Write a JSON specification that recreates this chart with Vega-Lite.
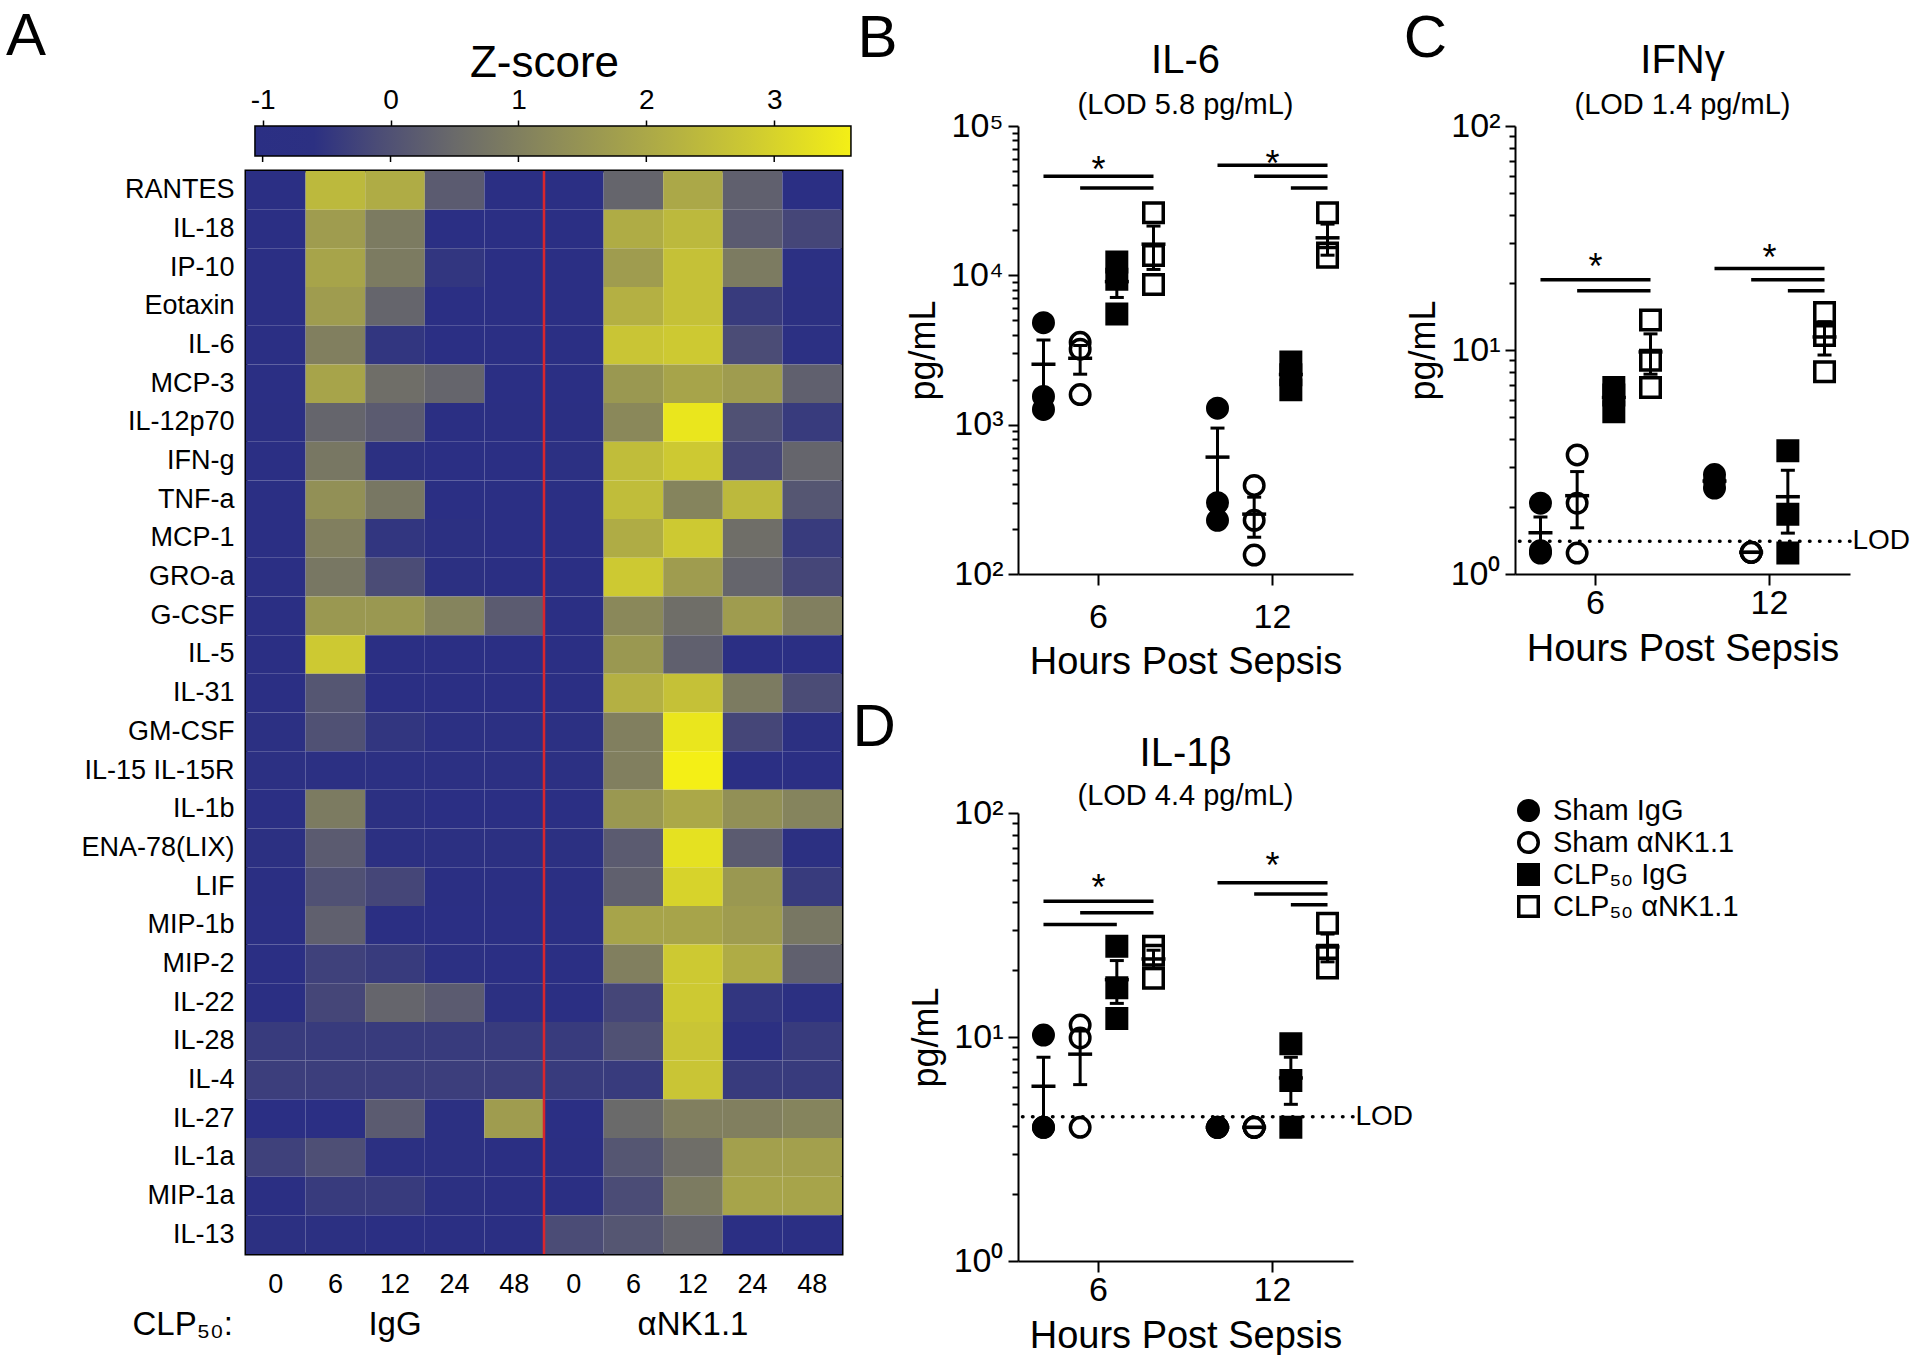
{
  "$schema": "https://vega.github.io/schema/vega-lite/v6.json",
  "background": "white",
  "padding": {"left": 6, "top": 7, "right": 0, "bottom": 0},
  "config": {
    "view": {"stroke": null},
    "font": "Liberation Sans",
    "axis": {"domainColor": "black", "tickColor": "black", "labelColor": "black", "titleColor": "black", "grid": false, "titleFontWeight": "normal", "labelFont": "Liberation Sans", "titleFont": "Liberation Sans"},
    "title": {"color": "black", "fontWeight": "normal", "font": "Liberation Sans", "subtitleColor": "black", "subtitleFont": "Liberation Sans"},
    "legend": {"labelColor": "black", "labelFont": "Liberation Sans"},
    "point": {"opacity": 1},
    "tick": {"opacity": 1},
    "text": {"color": "black", "font": "Liberation Sans"}
  },
  "datasets": {
    "il6": [
      {"time": 6, "group": "Sham IgG", "value": 4820}, {"time": 6, "group": "Sham IgG", "value": 1545}, {"time": 6, "group": "Sham IgG", "value": 1265},
      {"time": 6, "group": "Sham αNK1.1", "value": 3560}, {"time": 6, "group": "Sham αNK1.1", "value": 3200}, {"time": 6, "group": "Sham αNK1.1", "value": 1590},
      {"time": 6, "group": "CLP₅₀ IgG", "value": 12300}, {"time": 6, "group": "CLP₅₀ IgG", "value": 9420}, {"time": 6, "group": "CLP₅₀ IgG", "value": 5510},
      {"time": 6, "group": "CLP₅₀ αNK1.1", "value": 26200}, {"time": 6, "group": "CLP₅₀ αNK1.1", "value": 13600}, {"time": 6, "group": "CLP₅₀ αNK1.1", "value": 8690},
      {"time": 12, "group": "Sham IgG", "value": 1290}, {"time": 12, "group": "Sham IgG", "value": 300}, {"time": 12, "group": "Sham IgG", "value": 229},
      {"time": 12, "group": "Sham αNK1.1", "value": 392}, {"time": 12, "group": "Sham αNK1.1", "value": 229}, {"time": 12, "group": "Sham αNK1.1", "value": 134},
      {"time": 12, "group": "CLP₅₀ IgG", "value": 2630}, {"time": 12, "group": "CLP₅₀ IgG", "value": 2160}, {"time": 12, "group": "CLP₅₀ IgG", "value": 1710},
      {"time": 12, "group": "CLP₅₀ αNK1.1", "value": 26200}, {"time": 12, "group": "CLP₅₀ αNK1.1", "value": 14100}, {"time": 12, "group": "CLP₅₀ αNK1.1", "value": 13200}
    ],
    "ifng": [
      {"time": 6, "group": "Sham IgG", "value": 2.07}, {"time": 6, "group": "Sham IgG", "value": 1.27}, {"time": 6, "group": "Sham IgG", "value": 1.24},
      {"time": 6, "group": "Sham αNK1.1", "value": 3.4}, {"time": 6, "group": "Sham αNK1.1", "value": 2.07}, {"time": 6, "group": "Sham αNK1.1", "value": 1.24},
      {"time": 6, "group": "CLP₅₀ IgG", "value": 6.8}, {"time": 6, "group": "CLP₅₀ IgG", "value": 6.3}, {"time": 6, "group": "CLP₅₀ IgG", "value": 5.3},
      {"time": 6, "group": "CLP₅₀ αNK1.1", "value": 13.6}, {"time": 6, "group": "CLP₅₀ αNK1.1", "value": 9.0}, {"time": 6, "group": "CLP₅₀ αNK1.1", "value": 6.8},
      {"time": 12, "group": "Sham IgG", "value": 2.78}, {"time": 12, "group": "Sham IgG", "value": 2.6}, {"time": 12, "group": "Sham IgG", "value": 2.42},
      {"time": 12, "group": "Sham αNK1.1", "value": 1.25}, {"time": 12, "group": "Sham αNK1.1", "value": 1.25}, {"time": 12, "group": "Sham αNK1.1", "value": 1.25},
      {"time": 12, "group": "CLP₅₀ IgG", "value": 3.55}, {"time": 12, "group": "CLP₅₀ IgG", "value": 1.85}, {"time": 12, "group": "CLP₅₀ IgG", "value": 1.24},
      {"time": 12, "group": "CLP₅₀ αNK1.1", "value": 14.7}, {"time": 12, "group": "CLP₅₀ αNK1.1", "value": 11.6}, {"time": 12, "group": "CLP₅₀ αNK1.1", "value": 8.0}
    ],
    "il1b": [
      {"time": 6, "group": "Sham IgG", "value": 10.2}, {"time": 6, "group": "Sham IgG", "value": 3.95}, {"time": 6, "group": "Sham IgG", "value": 3.95},
      {"time": 6, "group": "Sham αNK1.1", "value": 11.3}, {"time": 6, "group": "Sham αNK1.1", "value": 9.9}, {"time": 6, "group": "Sham αNK1.1", "value": 3.95},
      {"time": 6, "group": "CLP₅₀ IgG", "value": 25.4}, {"time": 6, "group": "CLP₅₀ IgG", "value": 16.6}, {"time": 6, "group": "CLP₅₀ IgG", "value": 12.1},
      {"time": 6, "group": "CLP₅₀ αNK1.1", "value": 25.4}, {"time": 6, "group": "CLP₅₀ αNK1.1", "value": 23.2}, {"time": 6, "group": "CLP₅₀ αNK1.1", "value": 18.3},
      {"time": 12, "group": "Sham IgG", "value": 3.95}, {"time": 12, "group": "Sham IgG", "value": 3.95}, {"time": 12, "group": "Sham IgG", "value": 3.95},
      {"time": 12, "group": "Sham αNK1.1", "value": 3.95}, {"time": 12, "group": "Sham αNK1.1", "value": 3.95}, {"time": 12, "group": "Sham αNK1.1", "value": 3.95},
      {"time": 12, "group": "CLP₅₀ IgG", "value": 9.34}, {"time": 12, "group": "CLP₅₀ IgG", "value": 6.4}, {"time": 12, "group": "CLP₅₀ IgG", "value": 3.95},
      {"time": 12, "group": "CLP₅₀ αNK1.1", "value": 32.2}, {"time": 12, "group": "CLP₅₀ αNK1.1", "value": 23.2}, {"time": 12, "group": "CLP₅₀ αNK1.1", "value": 20.3}
    ],
    "heat": [
      {"name":"RANTES","col":"IgG 0","z":-1},{"name":"RANTES","col":"IgG 6","z":2.4},{"name":"RANTES","col":"IgG 12","z":2.1},{"name":"RANTES","col":"IgG 24","z":0.2},{"name":"RANTES","col":"IgG 48","z":-1},{"name":"RANTES","col":"aNK 0","z":-1},{"name":"RANTES","col":"aNK 6","z":0.4},{"name":"RANTES","col":"aNK 12","z":2.0},{"name":"RANTES","col":"aNK 24","z":0.3},{"name":"RANTES","col":"aNK 48","z":-1},
      {"name":"IL-18","col":"IgG 0","z":-1},{"name":"IL-18","col":"IgG 6","z":1.7},{"name":"IL-18","col":"IgG 12","z":0.9},{"name":"IL-18","col":"IgG 24","z":-1},{"name":"IL-18","col":"IgG 48","z":-1},{"name":"IL-18","col":"aNK 0","z":-1},{"name":"IL-18","col":"aNK 6","z":2.1},{"name":"IL-18","col":"aNK 12","z":2.4},{"name":"IL-18","col":"aNK 24","z":0.2},{"name":"IL-18","col":"aNK 48","z":-0.2},
      {"name":"IP-10","col":"IgG 0","z":-1},{"name":"IP-10","col":"IgG 6","z":1.9},{"name":"IP-10","col":"IgG 12","z":0.9},{"name":"IP-10","col":"IgG 24","z":-0.5},{"name":"IP-10","col":"IgG 48","z":-1},{"name":"IP-10","col":"aNK 0","z":-1},{"name":"IP-10","col":"aNK 6","z":1.7},{"name":"IP-10","col":"aNK 12","z":2.6},{"name":"IP-10","col":"aNK 24","z":0.9},{"name":"IP-10","col":"aNK 48","z":-0.8},
      {"name":"Eotaxin","col":"IgG 0","z":-1},{"name":"Eotaxin","col":"IgG 6","z":1.7},{"name":"Eotaxin","col":"IgG 12","z":0.4},{"name":"Eotaxin","col":"IgG 24","z":-1},{"name":"Eotaxin","col":"IgG 48","z":-1},{"name":"Eotaxin","col":"aNK 0","z":-1},{"name":"Eotaxin","col":"aNK 6","z":2.2},{"name":"Eotaxin","col":"aNK 12","z":2.6},{"name":"Eotaxin","col":"aNK 24","z":-0.4},{"name":"Eotaxin","col":"aNK 48","z":-0.7},
      {"name":"IL-6","col":"IgG 0","z":-1},{"name":"IL-6","col":"IgG 6","z":1.0},{"name":"IL-6","col":"IgG 12","z":-0.5},{"name":"IL-6","col":"IgG 24","z":-1},{"name":"IL-6","col":"IgG 48","z":-1},{"name":"IL-6","col":"aNK 0","z":-1},{"name":"IL-6","col":"aNK 6","z":2.7},{"name":"IL-6","col":"aNK 12","z":2.8},{"name":"IL-6","col":"aNK 24","z":-0.1},{"name":"IL-6","col":"aNK 48","z":-0.8},
      {"name":"MCP-3","col":"IgG 0","z":-1},{"name":"MCP-3","col":"IgG 6","z":1.9},{"name":"MCP-3","col":"IgG 12","z":0.6},{"name":"MCP-3","col":"IgG 24","z":0.4},{"name":"MCP-3","col":"IgG 48","z":-1},{"name":"MCP-3","col":"aNK 0","z":-1},{"name":"MCP-3","col":"aNK 6","z":1.6},{"name":"MCP-3","col":"aNK 12","z":1.9},{"name":"MCP-3","col":"aNK 24","z":1.7},{"name":"MCP-3","col":"aNK 48","z":0.3},
      {"name":"IL-12p70","col":"IgG 0","z":-0.9},{"name":"IL-12p70","col":"IgG 6","z":0.4},{"name":"IL-12p70","col":"IgG 12","z":0.2},{"name":"IL-12p70","col":"IgG 24","z":-0.9},{"name":"IL-12p70","col":"IgG 48","z":-0.9},{"name":"IL-12p70","col":"aNK 0","z":-0.9},{"name":"IL-12p70","col":"aNK 6","z":1.2},{"name":"IL-12p70","col":"aNK 12","z":3.4},{"name":"IL-12p70","col":"aNK 24","z":0.0},{"name":"IL-12p70","col":"aNK 48","z":-0.4},
      {"name":"IFN-g","col":"IgG 0","z":-1},{"name":"IFN-g","col":"IgG 6","z":0.8},{"name":"IFN-g","col":"IgG 12","z":-0.6},{"name":"IFN-g","col":"IgG 24","z":-1},{"name":"IFN-g","col":"IgG 48","z":-1},{"name":"IFN-g","col":"aNK 0","z":-0.8},{"name":"IFN-g","col":"aNK 6","z":2.5},{"name":"IFN-g","col":"aNK 12","z":2.8},{"name":"IFN-g","col":"aNK 24","z":-0.2},{"name":"IFN-g","col":"aNK 48","z":0.4},
      {"name":"TNF-a","col":"IgG 0","z":-1},{"name":"TNF-a","col":"IgG 6","z":1.4},{"name":"TNF-a","col":"IgG 12","z":0.8},{"name":"TNF-a","col":"IgG 24","z":-1},{"name":"TNF-a","col":"IgG 48","z":-1},{"name":"TNF-a","col":"aNK 0","z":-1},{"name":"TNF-a","col":"aNK 6","z":2.5},{"name":"TNF-a","col":"aNK 12","z":1.1},{"name":"TNF-a","col":"aNK 24","z":2.4},{"name":"TNF-a","col":"aNK 48","z":0.1},
      {"name":"MCP-1","col":"IgG 0","z":-1},{"name":"MCP-1","col":"IgG 6","z":1.0},{"name":"MCP-1","col":"IgG 12","z":-0.5},{"name":"MCP-1","col":"IgG 24","z":-0.7},{"name":"MCP-1","col":"IgG 48","z":-1},{"name":"MCP-1","col":"aNK 0","z":-1},{"name":"MCP-1","col":"aNK 6","z":2.1},{"name":"MCP-1","col":"aNK 12","z":2.8},{"name":"MCP-1","col":"aNK 24","z":0.6},{"name":"MCP-1","col":"aNK 48","z":-0.4},
      {"name":"GRO-a","col":"IgG 0","z":-1},{"name":"GRO-a","col":"IgG 6","z":0.8},{"name":"GRO-a","col":"IgG 12","z":-0.1},{"name":"GRO-a","col":"IgG 24","z":-0.6},{"name":"GRO-a","col":"IgG 48","z":-0.9},{"name":"GRO-a","col":"aNK 0","z":-1},{"name":"GRO-a","col":"aNK 6","z":2.8},{"name":"GRO-a","col":"aNK 12","z":1.7},{"name":"GRO-a","col":"aNK 24","z":0.4},{"name":"GRO-a","col":"aNK 48","z":-0.2},
      {"name":"G-CSF","col":"IgG 0","z":-1},{"name":"G-CSF","col":"IgG 6","z":1.6},{"name":"G-CSF","col":"IgG 12","z":1.6},{"name":"G-CSF","col":"IgG 24","z":1.1},{"name":"G-CSF","col":"IgG 48","z":0.2},{"name":"G-CSF","col":"aNK 0","z":-1},{"name":"G-CSF","col":"aNK 6","z":1.2},{"name":"G-CSF","col":"aNK 12","z":0.6},{"name":"G-CSF","col":"aNK 24","z":1.7},{"name":"G-CSF","col":"aNK 48","z":1.0},
      {"name":"IL-5","col":"IgG 0","z":-1},{"name":"IL-5","col":"IgG 6","z":2.8},{"name":"IL-5","col":"IgG 12","z":-1},{"name":"IL-5","col":"IgG 24","z":-1},{"name":"IL-5","col":"IgG 48","z":-1},{"name":"IL-5","col":"aNK 0","z":-1},{"name":"IL-5","col":"aNK 6","z":1.6},{"name":"IL-5","col":"aNK 12","z":0.3},{"name":"IL-5","col":"aNK 24","z":-1},{"name":"IL-5","col":"aNK 48","z":-1},
      {"name":"IL-31","col":"IgG 0","z":-1},{"name":"IL-31","col":"IgG 6","z":0.1},{"name":"IL-31","col":"IgG 12","z":-1},{"name":"IL-31","col":"IgG 24","z":-1},{"name":"IL-31","col":"IgG 48","z":-1},{"name":"IL-31","col":"aNK 0","z":-1},{"name":"IL-31","col":"aNK 6","z":2.2},{"name":"IL-31","col":"aNK 12","z":2.6},{"name":"IL-31","col":"aNK 24","z":0.9},{"name":"IL-31","col":"aNK 48","z":-0.1},
      {"name":"GM-CSF","col":"IgG 0","z":-0.8},{"name":"GM-CSF","col":"IgG 6","z":0.0},{"name":"GM-CSF","col":"IgG 12","z":-0.5},{"name":"GM-CSF","col":"IgG 24","z":-0.8},{"name":"GM-CSF","col":"IgG 48","z":-0.8},{"name":"GM-CSF","col":"aNK 0","z":-0.8},{"name":"GM-CSF","col":"aNK 6","z":1.0},{"name":"GM-CSF","col":"aNK 12","z":3.4},{"name":"GM-CSF","col":"aNK 24","z":-0.2},{"name":"GM-CSF","col":"aNK 48","z":-0.7},
      {"name":"IL-15 IL-15R","col":"IgG 0","z":-0.8},{"name":"IL-15 IL-15R","col":"IgG 6","z":-0.8},{"name":"IL-15 IL-15R","col":"IgG 12","z":-0.8},{"name":"IL-15 IL-15R","col":"IgG 24","z":-0.8},{"name":"IL-15 IL-15R","col":"IgG 48","z":-0.8},{"name":"IL-15 IL-15R","col":"aNK 0","z":-0.8},{"name":"IL-15 IL-15R","col":"aNK 6","z":1.0},{"name":"IL-15 IL-15R","col":"aNK 12","z":3.6},{"name":"IL-15 IL-15R","col":"aNK 24","z":-0.95},{"name":"IL-15 IL-15R","col":"aNK 48","z":-0.95},
      {"name":"IL-1b","col":"IgG 0","z":-1},{"name":"IL-1b","col":"IgG 6","z":0.9},{"name":"IL-1b","col":"IgG 12","z":-0.6},{"name":"IL-1b","col":"IgG 24","z":-1},{"name":"IL-1b","col":"IgG 48","z":-1},{"name":"IL-1b","col":"aNK 0","z":-1},{"name":"IL-1b","col":"aNK 6","z":1.6},{"name":"IL-1b","col":"aNK 12","z":2.0},{"name":"IL-1b","col":"aNK 24","z":1.4},{"name":"IL-1b","col":"aNK 48","z":1.1},
      {"name":"ENA-78(LIX)","col":"IgG 0","z":-0.6},{"name":"ENA-78(LIX)","col":"IgG 6","z":0.2},{"name":"ENA-78(LIX)","col":"IgG 12","z":-0.6},{"name":"ENA-78(LIX)","col":"IgG 24","z":-0.6},{"name":"ENA-78(LIX)","col":"IgG 48","z":-0.6},{"name":"ENA-78(LIX)","col":"aNK 0","z":-0.7},{"name":"ENA-78(LIX)","col":"aNK 6","z":0.2},{"name":"ENA-78(LIX)","col":"aNK 12","z":3.3},{"name":"ENA-78(LIX)","col":"aNK 24","z":0.2},{"name":"ENA-78(LIX)","col":"aNK 48","z":-0.7},
      {"name":"LIF","col":"IgG 0","z":-0.9},{"name":"LIF","col":"IgG 6","z":0.0},{"name":"LIF","col":"IgG 12","z":-0.2},{"name":"LIF","col":"IgG 24","z":-0.9},{"name":"LIF","col":"IgG 48","z":-0.9},{"name":"LIF","col":"aNK 0","z":-0.9},{"name":"LIF","col":"aNK 6","z":0.3},{"name":"LIF","col":"aNK 12","z":3.0},{"name":"LIF","col":"aNK 24","z":1.6},{"name":"LIF","col":"aNK 48","z":-0.4},
      {"name":"MIP-1b","col":"IgG 0","z":-1},{"name":"MIP-1b","col":"IgG 6","z":0.3},{"name":"MIP-1b","col":"IgG 12","z":-0.9},{"name":"MIP-1b","col":"IgG 24","z":-1},{"name":"MIP-1b","col":"IgG 48","z":-1},{"name":"MIP-1b","col":"aNK 0","z":-1},{"name":"MIP-1b","col":"aNK 6","z":1.9},{"name":"MIP-1b","col":"aNK 12","z":1.9},{"name":"MIP-1b","col":"aNK 24","z":1.7},{"name":"MIP-1b","col":"aNK 48","z":0.8},
      {"name":"MIP-2","col":"IgG 0","z":-1},{"name":"MIP-2","col":"IgG 6","z":-0.3},{"name":"MIP-2","col":"IgG 12","z":-0.4},{"name":"MIP-2","col":"IgG 24","z":-0.8},{"name":"MIP-2","col":"IgG 48","z":-1},{"name":"MIP-2","col":"aNK 0","z":-1},{"name":"MIP-2","col":"aNK 6","z":1.0},{"name":"MIP-2","col":"aNK 12","z":2.8},{"name":"MIP-2","col":"aNK 24","z":2.1},{"name":"MIP-2","col":"aNK 48","z":0.3},
      {"name":"IL-22","col":"IgG 0","z":-0.9},{"name":"IL-22","col":"IgG 6","z":-0.2},{"name":"IL-22","col":"IgG 12","z":0.4},{"name":"IL-22","col":"IgG 24","z":0.2},{"name":"IL-22","col":"IgG 48","z":-0.6},{"name":"IL-22","col":"aNK 0","z":-0.9},{"name":"IL-22","col":"aNK 6","z":-0.2},{"name":"IL-22","col":"aNK 12","z":2.8},{"name":"IL-22","col":"aNK 24","z":-0.5},{"name":"IL-22","col":"aNK 48","z":-0.6},
      {"name":"IL-28","col":"IgG 0","z":-0.4},{"name":"IL-28","col":"IgG 6","z":-0.4},{"name":"IL-28","col":"IgG 12","z":-0.4},{"name":"IL-28","col":"IgG 24","z":-0.4},{"name":"IL-28","col":"IgG 48","z":-0.4},{"name":"IL-28","col":"aNK 0","z":-0.4},{"name":"IL-28","col":"aNK 6","z":0.0},{"name":"IL-28","col":"aNK 12","z":2.7},{"name":"IL-28","col":"aNK 24","z":-0.6},{"name":"IL-28","col":"aNK 48","z":-0.4},
      {"name":"IL-4","col":"IgG 0","z":-0.35},{"name":"IL-4","col":"IgG 6","z":-0.35},{"name":"IL-4","col":"IgG 12","z":-0.35},{"name":"IL-4","col":"IgG 24","z":-0.35},{"name":"IL-4","col":"IgG 48","z":-0.35},{"name":"IL-4","col":"aNK 0","z":-0.4},{"name":"IL-4","col":"aNK 6","z":-0.4},{"name":"IL-4","col":"aNK 12","z":2.7},{"name":"IL-4","col":"aNK 24","z":-0.4},{"name":"IL-4","col":"aNK 48","z":-0.4},
      {"name":"IL-27","col":"IgG 0","z":-1},{"name":"IL-27","col":"IgG 6","z":-1},{"name":"IL-27","col":"IgG 12","z":0.2},{"name":"IL-27","col":"IgG 24","z":-0.7},{"name":"IL-27","col":"IgG 48","z":1.7},{"name":"IL-27","col":"aNK 0","z":-1},{"name":"IL-27","col":"aNK 6","z":0.5},{"name":"IL-27","col":"aNK 12","z":1.0},{"name":"IL-27","col":"aNK 24","z":1.0},{"name":"IL-27","col":"aNK 48","z":1.1},
      {"name":"IL-1a","col":"IgG 0","z":-0.3},{"name":"IL-1a","col":"IgG 6","z":-0.05},{"name":"IL-1a","col":"IgG 12","z":-0.6},{"name":"IL-1a","col":"IgG 24","z":-0.7},{"name":"IL-1a","col":"IgG 48","z":-0.9},{"name":"IL-1a","col":"aNK 0","z":-0.9},{"name":"IL-1a","col":"aNK 6","z":0.1},{"name":"IL-1a","col":"aNK 12","z":0.6},{"name":"IL-1a","col":"aNK 24","z":1.8},{"name":"IL-1a","col":"aNK 48","z":1.8},
      {"name":"MIP-1a","col":"IgG 0","z":-0.9},{"name":"MIP-1a","col":"IgG 6","z":-0.4},{"name":"MIP-1a","col":"IgG 12","z":-0.4},{"name":"MIP-1a","col":"IgG 24","z":-0.6},{"name":"MIP-1a","col":"IgG 48","z":-0.9},{"name":"MIP-1a","col":"aNK 0","z":-0.9},{"name":"MIP-1a","col":"aNK 6","z":-0.1},{"name":"MIP-1a","col":"aNK 12","z":0.9},{"name":"MIP-1a","col":"aNK 24","z":1.9},{"name":"MIP-1a","col":"aNK 48","z":1.9},
      {"name":"IL-13","col":"IgG 0","z":-0.7},{"name":"IL-13","col":"IgG 6","z":-0.7},{"name":"IL-13","col":"IgG 12","z":-0.85},{"name":"IL-13","col":"IgG 24","z":-0.85},{"name":"IL-13","col":"IgG 48","z":-0.85},{"name":"IL-13","col":"aNK 0","z":-0.1},{"name":"IL-13","col":"aNK 6","z":0.1},{"name":"IL-13","col":"aNK 12","z":0.4},{"name":"IL-13","col":"aNK 24","z":-0.95},{"name":"IL-13","col":"aNK 48","z":-0.95}
    ]
  },
  "spacing": 0,
  "resolve": {"scale": {"shape": "independent", "fill": "independent", "stroke": "independent"}},
  "hconcat": [
    {
      "bounds": "flush",
      "spacing": 15,
      "vconcat": [
        {
          "width": 596,
          "height": 30,
          "title": {"text": "A", "anchor": "start", "frame": "group", "fontSize": 60, "offset": 0, "dx": -240, "dy": 27},
          "data": {"values": [{"lo": -1.06, "hi": 3.6}]},
          "layer": [
            {
              "mark": {"type": "rect", "stroke": "black", "strokeWidth": 1.5, "fill": {"gradient": "linear", "x1": 0, "x2": 1, "y1": 0, "y2": 0, "stops": [
                {"offset": 0, "color": "#2b2f84"}, {"offset": 0.0987, "color": "#2c3082"}, {"offset": 0.206, "color": "#4b4c76"}, {"offset": 0.3348, "color": "#6a6a6a"},
                {"offset": 0.5064, "color": "#8e8c58"}, {"offset": 0.6567, "color": "#aba848"}, {"offset": 0.8283, "color": "#cdc932"}, {"offset": 1, "color": "#f4ef16"}]}},
              "encoding": {
                "x": {"field": "lo", "type": "quantitative", "title": "Z-score", "scale": {"domain": [-1.13, 3.53], "nice": false, "zero": false},
                      "axis": {"orient": "top", "values": [-1, 0, 1, 2, 3], "labelExpr": "'' + datum.value", "tickSize": 6, "tickWidth": 1.5, "domain": false, "labelFontSize": 28, "labelPadding": 6, "labelFlush": false, "titleFontSize": 44, "titlePadding": 1}},
                "x2": {"field": "hi"}
              }
            },
            {
              "data": {"values": [{"v": -1}, {"v": 0}, {"v": 1}, {"v": 2}, {"v": 3}]},
              "mark": {"type": "rule", "color": "black", "strokeWidth": 1.5},
              "encoding": {
                "x": {"field": "v", "type": "quantitative", "title": "Z-score"},
                "y": {"datum": 0, "type": "quantitative", "scale": {"domain": [0, 1], "nice": false, "zero": false}, "axis": null},
                "y2": {"datum": -0.2}
              }
            }
          ]
        },
        {
          "width": 596,
          "height": 1083,
          "view": {"stroke": "black", "strokeWidth": 3},
          "layer": [
            {
              "data": {"name": "heat"},
              "mark": {"type": "rect"},
              "encoding": {
                "x": {"field": "col", "type": "ordinal",
                      "scale": {"domain": ["IgG 0", "IgG 6", "IgG 12", "IgG 24", "IgG 48", "aNK 0", "aNK 6", "aNK 12", "aNK 24", "aNK 48"], "paddingInner": 0, "paddingOuter": 0},
                      "axis": {"orient": "bottom", "labelExpr": "split(datum.value, ' ')[1]", "labelAngle": 0, "ticks": false, "domain": false, "labelFontSize": 27, "labelPadding": 17, "title": null}},
                "y": {"field": "name", "type": "ordinal",
                      "scale": {"domain": ["RANTES", "IL-18", "IP-10", "Eotaxin", "IL-6", "MCP-3", "IL-12p70", "IFN-g", "TNF-a", "MCP-1", "GRO-a", "G-CSF", "IL-5", "IL-31", "GM-CSF", "IL-15 IL-15R", "IL-1b", "ENA-78(LIX)", "LIF", "MIP-1b", "MIP-2", "IL-22", "IL-28", "IL-4", "IL-27", "IL-1a", "MIP-1a", "IL-13"], "paddingInner": 0, "paddingOuter": 0},
                      "axis": {"ticks": false, "domain": false, "labelFontSize": 27, "labelPadding": 12, "title": null}},
                "color": {"field": "z", "type": "quantitative",
                          "scale": {"type": "linear", "domain": [-1.06, -0.6, -0.1, 0.5, 1.3, 2.0, 2.8, 3.6], "range": ["#2b2f84", "#2c3082", "#4b4c76", "#6a6a6a", "#8e8c58", "#aba848", "#cdc932", "#f4ef16"], "interpolate": "rgb", "clamp": true},
                          "legend": null}
              }
            },
            {
              "data": {"values": [{"col": "aNK 0"}]},
              "mark": {"type": "rule", "color": "#d9262c", "strokeWidth": 2.5},
              "encoding": {"x": {"field": "col", "type": "ordinal", "bandPosition": 0}}
            },
            {
              "data": {"values": [{"col": "IgG 12", "label": "IgG"}, {"col": "aNK 12", "label": "αNK1.1"}]},
              "mark": {"type": "text", "fontSize": 33, "align": "center", "baseline": "middle", "dy": 90},
              "encoding": {
                "x": {"field": "col", "type": "ordinal"},
                "y": {"datum": "IL-13", "type": "ordinal"},
                "text": {"field": "label"}
              }
            },
            {
              "data": {"values": [{"col": "IgG 0", "label": "CLP₅₀:"}]},
              "mark": {"type": "text", "fontSize": 33, "align": "right", "baseline": "middle", "dy": 90, "dx": -43},
              "encoding": {
                "x": {"field": "col", "type": "ordinal"},
                "y": {"datum": "IL-13", "type": "ordinal"},
                "text": {"field": "label"}
              }
            }
          ]
        }
      ]
    },
    {
      "spacing": 16,
      "resolve": {"scale": {"shape": "independent", "fill": "independent", "stroke": "independent"}},
      "vconcat": [
        {
          "bounds": "flush",
          "spacing": 162,
          "resolve": {"scale": {"shape": "independent", "fill": "independent", "stroke": "independent"}},
          "hconcat": [
            {
              "width": 335,
              "height": 448,
              "title": {"text": "IL-6", "subtitle": "(LOD 5.8 pg/mL)", "anchor": "middle", "frame": "group", "fontSize": 40, "subtitleFontSize": 29, "subtitlePadding": 10, "offset": 5, "dy": 116},
              "layer": [
                {
                  "data": {"name": "il6"},
                  "mark": {"type": "point", "filled": true, "stroke": "black", "strokeWidth": 3.5, "size": 380, "opacity": 1},
                  "encoding": {
                    "x": {"field": "time", "type": "ordinal", "title": "Hours Post Sepsis", "scale": {"paddingInner": 0.157, "paddingOuter": 0.041},
                          "axis": {"labelAngle": 0, "tickSize": 11, "tickWidth": 2, "domainWidth": 2, "labelFontSize": 34, "labelPadding": 15, "titleFontSize": 38, "titlePadding": 9}},
                    "xOffset": {"field": "group", "type": "nominal", "scale": {"domain": ["Sham IgG", "Sham αNK1.1", "CLP₅₀ IgG", "CLP₅₀ αNK1.1"], "paddingInner": 0, "paddingOuter": 0}},
                    "y": {"field": "value", "type": "quantitative", "title": "pg/mL", "scale": {"type": "log", "domain": [100, 100000], "nice": false},
                          "axis": {"values": [100, 200, 300, 400, 500, 600, 700, 800, 900, 1000, 2000, 3000, 4000, 5000, 6000, 7000, 8000, 9000, 10000, 20000, 30000, 40000, 50000, 60000, 70000, 80000, 90000, 100000],
                                   "labelExpr": "abs(log(datum.value)/LN10 - round(log(datum.value)/LN10)) < 0.001 ? '10' + ['⁰','¹','²','³','⁴','⁵'][round(log(datum.value)/LN10)] : ''",
                                   "tickSize": {"condition": {"test": "abs(log(datum.value)/LN10 - round(log(datum.value)/LN10)) < 0.001", "value": 10}, "value": 6},
                                   "tickWidth": 2, "domainWidth": 2, "labelFontSize": 34, "labelPadding": 5, "labelOverlap": false, "labelFlush": false, "titleFontSize": 36, "titlePadding": 8}},
                    "shape": {"field": "group", "type": "nominal", "scale": {"domain": ["Sham IgG", "Sham αNK1.1", "CLP₅₀ IgG", "CLP₅₀ αNK1.1"], "range": ["circle", "circle", "square", "square"]}, "legend": null},
                    "fill": {"field": "group", "type": "nominal", "scale": {"domain": ["Sham IgG", "Sham αNK1.1", "CLP₅₀ IgG", "CLP₅₀ αNK1.1"], "range": ["black", "white", "black", "white"]}, "legend": null}
                  }
                },
                {
                  "data": {"name": "il6"},
                  "mark": {"type": "errorbar", "extent": "stderr", "orient": "vertical", "color": "black", "thickness": 3, "ticks": {"size": 14, "thickness": 3, "color": "black", "opacity": 1}},
                  "encoding": {
                    "x": {"field": "time", "type": "ordinal", "title": "Hours Post Sepsis"},
                    "xOffset": {"field": "group", "type": "nominal"},
                    "y": {"field": "value", "type": "quantitative", "title": "pg/mL"}
                  }
                },
                {
                  "data": {"name": "il6"},
                  "mark": {"type": "tick", "orient": "horizontal", "size": 24, "thickness": 3.5, "color": "black", "opacity": 1},
                  "encoding": {
                    "x": {"field": "time", "type": "ordinal", "title": "Hours Post Sepsis"},
                    "xOffset": {"field": "group", "type": "nominal"},
                    "y": {"aggregate": "mean", "field": "value", "type": "quantitative", "title": "pg/mL"}
                  }
                },
                {
                  "data": {"values": [
                    {"time": 6, "group": "Sham IgG", "line": "a", "y": 46000}, {"time": 6, "group": "CLP₅₀ αNK1.1", "line": "a", "y": 46000},
                    {"time": 6, "group": "Sham αNK1.1", "line": "b", "y": 38400}, {"time": 6, "group": "CLP₅₀ αNK1.1", "line": "b", "y": 38400},
                    {"time": 12, "group": "Sham IgG", "line": "c", "y": 54500}, {"time": 12, "group": "CLP₅₀ αNK1.1", "line": "c", "y": 54500},
                    {"time": 12, "group": "Sham αNK1.1", "line": "d", "y": 46000}, {"time": 12, "group": "CLP₅₀ αNK1.1", "line": "d", "y": 46000},
                    {"time": 12, "group": "CLP₅₀ IgG", "line": "e", "y": 38400}, {"time": 12, "group": "CLP₅₀ αNK1.1", "line": "e", "y": 38400}]},
                  "mark": {"type": "line", "strokeWidth": 3.5, "color": "black"},
                  "encoding": {
                    "x": {"field": "time", "type": "ordinal", "title": "Hours Post Sepsis"},
                    "xOffset": {"field": "group", "type": "nominal"},
                    "y": {"field": "y", "type": "quantitative", "title": "pg/mL"},
                    "detail": {"field": "line", "type": "nominal"}
                  }
                },
                {
                  "data": {"values": [{"time": 6, "y": 50000, "label": "*"}, {"time": 12, "y": 54800, "label": "*"}]},
                  "mark": {"type": "text", "fontSize": 36, "align": "center", "baseline": "middle"},
                  "encoding": {
                    "x": {"field": "time", "type": "ordinal", "title": "Hours Post Sepsis"},
                    "y": {"field": "y", "type": "quantitative", "title": "pg/mL"},
                    "text": {"field": "label"}
                  }
                },
                {
                  "data": {"values": [{"label": "\u2005\u2006B"}]},
                  "mark": {"type": "text", "fontSize": 60, "align": "left", "baseline": "middle", "dx": -241},
                  "encoding": {
                    "x": {"datum": 6, "type": "ordinal"},
                    "y": {"datum": 382500, "type": "quantitative"},
                    "text": {"field": "label"}
                  }
                }
              ]
            },
            {
              "width": 335,
              "height": 448,
              "title": {"text": "IFNγ", "subtitle": "(LOD 1.4 pg/mL)", "anchor": "middle", "frame": "group", "fontSize": 40, "subtitleFontSize": 29, "subtitlePadding": 10, "offset": 5, "dy": 116},
              "layer": [
                {
                  "data": {"name": "ifng"},
                  "mark": {"type": "point", "filled": true, "stroke": "black", "strokeWidth": 3.5, "size": 380, "opacity": 1},
                  "encoding": {
                    "x": {"field": "time", "type": "ordinal", "title": "Hours Post Sepsis", "scale": {"paddingInner": 0.157, "paddingOuter": 0.041},
                          "axis": {"labelAngle": 0, "tickSize": 11, "tickWidth": 2, "domainWidth": 2, "labelFontSize": 34, "labelPadding": 1.5, "titleFontSize": 38, "titlePadding": 10}},
                    "xOffset": {"field": "group", "type": "nominal", "scale": {"domain": ["Sham IgG", "Sham αNK1.1", "CLP₅₀ IgG", "CLP₅₀ αNK1.1"], "paddingInner": 0, "paddingOuter": 0}},
                    "y": {"field": "value", "type": "quantitative", "title": "pg/mL", "scale": {"type": "log", "domain": [1, 100], "nice": false},
                          "axis": {"values": [1, 2, 3, 4, 5, 6, 7, 8, 9, 10, 20, 30, 40, 50, 60, 70, 80, 90, 100],
                                   "labelExpr": "abs(log(datum.value)/LN10 - round(log(datum.value)/LN10)) < 0.001 ? '10' + ['⁰','¹','²','³','⁴','⁵'][round(log(datum.value)/LN10)] : ''",
                                   "tickSize": {"condition": {"test": "abs(log(datum.value)/LN10 - round(log(datum.value)/LN10)) < 0.001", "value": 10}, "value": 6},
                                   "tickWidth": 2, "domainWidth": 2, "labelFontSize": 34, "labelPadding": 5, "labelOverlap": false, "labelFlush": false, "titleFontSize": 36, "titlePadding": 8}},
                    "shape": {"field": "group", "type": "nominal", "scale": {"domain": ["Sham IgG", "Sham αNK1.1", "CLP₅₀ IgG", "CLP₅₀ αNK1.1"], "range": ["circle", "circle", "square", "square"]}, "legend": null},
                    "fill": {"field": "group", "type": "nominal", "scale": {"domain": ["Sham IgG", "Sham αNK1.1", "CLP₅₀ IgG", "CLP₅₀ αNK1.1"], "range": ["black", "white", "black", "white"]}, "legend": null}
                  }
                },
                {
                  "data": {"name": "ifng"},
                  "mark": {"type": "errorbar", "extent": "stderr", "orient": "vertical", "color": "black", "thickness": 3, "ticks": {"size": 14, "thickness": 3, "color": "black", "opacity": 1}},
                  "encoding": {
                    "x": {"field": "time", "type": "ordinal", "title": "Hours Post Sepsis"},
                    "xOffset": {"field": "group", "type": "nominal"},
                    "y": {"field": "value", "type": "quantitative", "title": "pg/mL"}
                  }
                },
                {
                  "data": {"name": "ifng"},
                  "mark": {"type": "tick", "orient": "horizontal", "size": 24, "thickness": 3.5, "color": "black", "opacity": 1},
                  "encoding": {
                    "x": {"field": "time", "type": "ordinal", "title": "Hours Post Sepsis"},
                    "xOffset": {"field": "group", "type": "nominal"},
                    "y": {"aggregate": "mean", "field": "value", "type": "quantitative", "title": "pg/mL"}
                  }
                },
                {
                  "data": {"values": [{"lod": 1.4}]},
                  "mark": {"type": "rule", "strokeWidth": 3.5, "strokeDash": [0.5, 9.5], "strokeCap": "round", "color": "black"},
                  "encoding": {"y": {"field": "lod", "type": "quantitative", "title": "pg/mL"}}
                },
                {
                  "data": {"values": [{"lod": 1.4, "label": "LOD"}]},
                  "mark": {"type": "text", "fontSize": 28, "align": "left", "baseline": "middle", "dx": 83},
                  "encoding": {
                    "x": {"datum": 12, "type": "ordinal"},
                    "y": {"field": "lod", "type": "quantitative", "title": "pg/mL"},
                    "text": {"field": "label"}
                  }
                },
                {
                  "data": {"values": [
                    {"time": 6, "group": "Sham IgG", "line": "a", "y": 20.6}, {"time": 6, "group": "CLP₅₀ αNK1.1", "line": "a", "y": 20.6},
                    {"time": 6, "group": "Sham αNK1.1", "line": "b", "y": 18.4}, {"time": 6, "group": "CLP₅₀ αNK1.1", "line": "b", "y": 18.4},
                    {"time": 12, "group": "Sham IgG", "line": "c", "y": 23.1}, {"time": 12, "group": "CLP₅₀ αNK1.1", "line": "c", "y": 23.1},
                    {"time": 12, "group": "Sham αNK1.1", "line": "d", "y": 20.6}, {"time": 12, "group": "CLP₅₀ αNK1.1", "line": "d", "y": 20.6},
                    {"time": 12, "group": "CLP₅₀ IgG", "line": "e", "y": 18.4}, {"time": 12, "group": "CLP₅₀ αNK1.1", "line": "e", "y": 18.4}]},
                  "mark": {"type": "line", "strokeWidth": 3.5, "color": "black"},
                  "encoding": {
                    "x": {"field": "time", "type": "ordinal", "title": "Hours Post Sepsis"},
                    "xOffset": {"field": "group", "type": "nominal"},
                    "y": {"field": "y", "type": "quantitative", "title": "pg/mL"},
                    "detail": {"field": "line", "type": "nominal"}
                  }
                },
                {
                  "data": {"values": [{"time": 6, "y": 23.2, "label": "*"}, {"time": 12, "y": 25.4, "label": "*"}]},
                  "mark": {"type": "text", "fontSize": 36, "align": "center", "baseline": "middle"},
                  "encoding": {
                    "x": {"field": "time", "type": "ordinal", "title": "Hours Post Sepsis"},
                    "y": {"field": "y", "type": "quantitative", "title": "pg/mL"},
                    "text": {"field": "label"}
                  }
                },
                {
                  "data": {"values": [{"label": "C"}]},
                  "mark": {"type": "text", "fontSize": 60, "align": "center", "baseline": "middle", "dx": -170},
                  "encoding": {
                    "x": {"datum": 6, "type": "ordinal"},
                    "y": {"datum": 244.6, "type": "quantitative"},
                    "text": {"field": "label"}
                  }
                }
              ]
            }
          ]
        },
        {
          "width": 335,
          "height": 448,
          "title": {"text": "IL-1β", "subtitle": "(LOD 4.4 pg/mL)", "anchor": "middle", "frame": "group", "fontSize": 40, "subtitleFontSize": 29, "subtitlePadding": 8, "offset": 5, "dy": 118},
          "layer": [
            {
              "data": {"name": "il1b"},
              "mark": {"type": "point", "filled": true, "strokeWidth": 3.5, "size": 380, "opacity": 1},
              "encoding": {
                "x": {"field": "time", "type": "ordinal", "title": "Hours Post Sepsis", "scale": {"paddingInner": 0.157, "paddingOuter": 0.041},
                      "axis": {"labelAngle": 0, "tickSize": 11, "tickWidth": 2, "domainWidth": 2, "labelFontSize": 34, "labelPadding": 1, "titleFontSize": 38, "titlePadding": 10}},
                "xOffset": {"field": "group", "type": "nominal", "scale": {"domain": ["Sham IgG", "Sham αNK1.1", "CLP₅₀ IgG", "CLP₅₀ αNK1.1"], "paddingInner": 0, "paddingOuter": 0}},
                "y": {"field": "value", "type": "quantitative", "title": "pg/mL", "scale": {"type": "log", "domain": [1, 100], "nice": false},
                      "axis": {"values": [1, 2, 3, 4, 5, 6, 7, 8, 9, 10, 20, 30, 40, 50, 60, 70, 80, 90, 100],
                               "labelExpr": "abs(log(datum.value)/LN10 - round(log(datum.value)/LN10)) < 0.001 ? '10' + ['⁰','¹','²','³','⁴','⁵'][round(log(datum.value)/LN10)] : ''",
                               "tickSize": {"condition": {"test": "abs(log(datum.value)/LN10 - round(log(datum.value)/LN10)) < 0.001", "value": 10}, "value": 6},
                               "tickWidth": 2, "domainWidth": 2, "labelFontSize": 34, "labelPadding": 5, "labelOverlap": false, "labelFlush": false, "titleFontSize": 36, "titlePadding": 8}},
                "shape": {"field": "group", "type": "nominal", "scale": {"domain": ["Sham IgG", "Sham αNK1.1", "CLP₅₀ IgG", "CLP₅₀ αNK1.1"], "range": ["circle", "circle", "square", "square"]},
                          "legend": {"orient": "none", "legendX": 496, "legendY": -17, "padding": 0, "title": null, "labelFontSize": 29, "labelLimit": 400, "symbolSize": 380, "symbolStrokeWidth": 3.5, "symbolStrokeColor": "black", "rowPadding": -5.4, "labelOffset": 10}},
                "fill": {"field": "group", "type": "nominal", "scale": {"domain": ["Sham IgG", "Sham αNK1.1", "CLP₅₀ IgG", "CLP₅₀ αNK1.1"], "range": ["black", "white", "black", "white"]},
                         "legend": {"orient": "none", "legendX": 496, "legendY": -17, "padding": 0, "title": null, "labelFontSize": 29, "labelLimit": 400, "symbolSize": 380, "symbolStrokeWidth": 3.5, "symbolStrokeColor": "black", "rowPadding": -5.4, "labelOffset": 10}},
                "stroke": {"field": "group", "type": "nominal", "scale": {"domain": ["Sham IgG", "Sham αNK1.1", "CLP₅₀ IgG", "CLP₅₀ αNK1.1"], "range": ["black", "black", "black", "black"]},
                           "legend": {"orient": "none", "legendX": 496, "legendY": -17, "padding": 0, "title": null, "labelFontSize": 29, "labelLimit": 400, "symbolSize": 380, "symbolStrokeWidth": 3.5, "symbolStrokeColor": "black", "rowPadding": -5.4, "labelOffset": 10}}
              }
            },
            {
              "data": {"name": "il1b"},
              "mark": {"type": "errorbar", "extent": "stderr", "orient": "vertical", "color": "black", "thickness": 3, "ticks": {"size": 14, "thickness": 3, "color": "black", "opacity": 1}},
              "encoding": {
                "x": {"field": "time", "type": "ordinal", "title": "Hours Post Sepsis"},
                "xOffset": {"field": "group", "type": "nominal"},
                "y": {"field": "value", "type": "quantitative", "title": "pg/mL"}
              }
            },
            {
              "data": {"name": "il1b"},
              "mark": {"type": "tick", "orient": "horizontal", "size": 24, "thickness": 3.5, "color": "black", "opacity": 1},
              "encoding": {
                "x": {"field": "time", "type": "ordinal", "title": "Hours Post Sepsis"},
                "xOffset": {"field": "group", "type": "nominal"},
                "y": {"aggregate": "mean", "field": "value", "type": "quantitative", "title": "pg/mL"}
              }
            },
            {
              "data": {"values": [{"lod": 4.4}]},
              "mark": {"type": "rule", "strokeWidth": 3.5, "strokeDash": [0.5, 9.5], "strokeCap": "round", "color": "black"},
              "encoding": {"y": {"field": "lod", "type": "quantitative", "title": "pg/mL"}}
            },
            {
              "data": {"values": [{"lod": 4.4, "label": "LOD"}]},
              "mark": {"type": "text", "fontSize": 28, "align": "left", "baseline": "middle", "dx": 83},
              "encoding": {
                "x": {"datum": 12, "type": "ordinal"},
                "y": {"field": "lod", "type": "quantitative", "title": "pg/mL"},
                "text": {"field": "label"}
              }
            },
            {
              "data": {"values": [
                {"time": 6, "group": "Sham IgG", "line": "a", "y": 40.4}, {"time": 6, "group": "CLP₅₀ αNK1.1", "line": "a", "y": 40.4},
                {"time": 6, "group": "Sham αNK1.1", "line": "b", "y": 35.9}, {"time": 6, "group": "CLP₅₀ αNK1.1", "line": "b", "y": 35.9},
                {"time": 6, "group": "Sham IgG", "line": "c", "y": 31.8}, {"time": 6, "group": "CLP₅₀ IgG", "line": "c", "y": 31.8},
                {"time": 12, "group": "Sham IgG", "line": "d", "y": 48.8}, {"time": 12, "group": "CLP₅₀ αNK1.1", "line": "d", "y": 48.8},
                {"time": 12, "group": "Sham αNK1.1", "line": "e", "y": 43.5}, {"time": 12, "group": "CLP₅₀ αNK1.1", "line": "e", "y": 43.5},
                {"time": 12, "group": "CLP₅₀ IgG", "line": "f", "y": 38.9}, {"time": 12, "group": "CLP₅₀ αNK1.1", "line": "f", "y": 38.9}]},
              "mark": {"type": "line", "strokeWidth": 3.5, "color": "black"},
              "encoding": {
                "x": {"field": "time", "type": "ordinal", "title": "Hours Post Sepsis"},
                "xOffset": {"field": "group", "type": "nominal"},
                "y": {"field": "y", "type": "quantitative", "title": "pg/mL"},
                "detail": {"field": "line", "type": "nominal"}
              }
            },
            {
              "data": {"values": [{"time": 6, "y": 45.9, "label": "*"}, {"time": 12, "y": 57.4, "label": "*"}]},
              "mark": {"type": "text", "fontSize": 36, "align": "center", "baseline": "middle"},
              "encoding": {
                "x": {"field": "time", "type": "ordinal", "title": "Hours Post Sepsis"},
                "y": {"field": "y", "type": "quantitative", "title": "pg/mL"},
                "text": {"field": "label"}
              }
            },
            {
              "data": {"values": [{"label": "D"}]},
              "mark": {"type": "text", "fontSize": 60, "align": "left", "baseline": "middle", "dx": -246},
              "encoding": {
                "x": {"datum": 6, "type": "ordinal"},
                "y": {"datum": 239.6, "type": "quantitative"},
                "text": {"field": "label"}
              }
            }
          ]
        }
      ]
    }
  ]
}
